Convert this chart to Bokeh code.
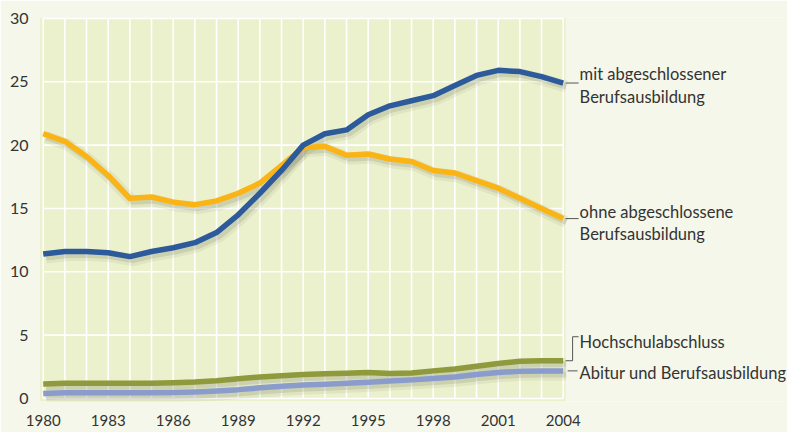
from bokeh.plotting import figure
from bokeh.models import Range1d, FixedTicker, Label
from bokeh.embed import file_html
from bokeh.resources import INLINE

# ---------------- data ----------------
years = list(range(1980, 2005))
mit_ausbildung = [11.4, 11.6, 11.6, 11.5, 11.2, 11.6, 11.9, 12.3, 13.1, 14.5, 16.2, 18.0, 20.0,
                  20.9, 21.2, 22.4, 23.1, 23.5, 23.9, 24.7, 25.5, 25.9, 25.8, 25.4, 24.9]
ohne_ausbildung = [20.9, 20.3, 19.1, 17.6, 15.8, 15.9, 15.5, 15.3, 15.6, 16.2, 17.0, 18.4, 19.8,
                   19.9, 19.2, 19.3, 18.9, 18.7, 18.0, 17.8, 17.2, 16.6, 15.8, 15.0, 14.2]
hochschule = [1.15, 1.2, 1.2, 1.2, 1.2, 1.2, 1.25, 1.3, 1.4, 1.55, 1.7, 1.8, 1.9,
              1.95, 2.0, 2.05, 1.97, 2.02, 2.18, 2.33, 2.55, 2.76, 2.94, 2.97, 2.98]
abitur = [0.4, 0.45, 0.45, 0.45, 0.45, 0.45, 0.47, 0.52, 0.6, 0.7, 0.84, 0.97, 1.07,
          1.12, 1.2, 1.29, 1.39, 1.47, 1.58, 1.7, 1.89, 2.05, 2.15, 2.18, 2.18]

x_ticks = list(range(1980, 2005, 3))
x_tick_labels = [str(t) for t in x_ticks]
y_ticks = [0, 5, 10, 15, 20, 25, 30]

label_mit = ["mit abgeschlossener", "Berufsausbildung"]
label_ohne = ["ohne abgeschlossene", "Berufsausbildung"]
label_hoch = "Hochschulabschluss"
label_abi = "Abitur und Berufsausbildung"

# ---------------- style / layout ----------------
PAGE_BG = "#f5f7ea"
PLOT_BG = "#ecf1cd"
TEXT = "#333333"
LEADER = "#555555"
C_MIT = "#2c5a9a"
C_OHNE = "#fbb416"
C_HOCH = "#8e9a3c"
C_ABI = "#8a9ccb"
FONT = "Lato"

W, H = 787, 432
LEFT, TOP, BOTTOM = 39, 17, 31
FRAME_W = W - LEFT
FRAME_H = H - TOP - BOTTOM
PX_YEAR = 21.667
PX_UNIT = 12.67
x0 = years[0] - 3.7 / PX_YEAR
x_plot_end = years[-1] + 2.4 / PX_YEAR
y0 = -3.0 / PX_UNIT
x1 = x0 + FRAME_W / PX_YEAR
y1 = y0 + FRAME_H / PX_UNIT

def dx(px):
    return px / PX_YEAR

def dy(px):
    return px / PX_UNIT

p = figure(width=W, height=H, x_range=Range1d(x0, x1), y_range=Range1d(y0, y1),
           output_backend="svg", toolbar_location=None,
           min_border_left=LEFT, min_border_right=0, min_border_top=TOP,
           min_border_bottom=BOTTOM, background_fill_color=PAGE_BG,
           border_fill_color=PAGE_BG, outline_line_color=None)
p.grid.visible = False

# plot area background
p.quad(left=[x0], right=[x_plot_end], bottom=[y0], top=[y1], fill_color=PLOT_BG, line_color=None)

# grid lines
p.multi_line(xs=[[yr, yr] for yr in years], ys=[[y_ticks[0], y_ticks[-1]]] * len(years),
             line_color="white", line_width=1.6)
p.multi_line(xs=[[years[0], years[-1]]] * len(y_ticks), ys=[[t, t] for t in y_ticks],
             line_color="white", line_width=1.6)

series = [(hochschule, C_HOCH), (abitur, C_ABI), (ohne_ausbildung, C_OHNE), (mit_ausbildung, C_MIT)]

# shadows
for vals, _c in series:
    sx = [yr + dx(3) for yr in years]
    sy = [v - dy(3.5) for v in vals]
    p.line(sx, sy, line_color="#5a5a40", line_alpha=0.08, line_width=12, line_join="round")
    p.line(sx, sy, line_color="#5a5a40", line_alpha=0.15, line_width=6, line_join="round")

for vals, c in series:
    p.line(years, vals, line_color=c, line_width=5.5, line_join="round")

# axes
for ax in (p.xaxis, p.yaxis):
    ax.axis_line_color = None
    ax.major_tick_line_color = None
    ax.minor_tick_line_color = None
    ax.major_tick_out = 0
    ax.major_tick_in = 0
    ax.major_label_text_font = FONT
    ax.major_label_text_color = TEXT
p.xaxis.ticker = FixedTicker(ticks=x_ticks)
p.xaxis.major_label_overrides = {t: s for t, s in zip(x_ticks, x_tick_labels)}
p.xaxis.major_label_text_font_size = "15px"
p.xaxis.major_label_standoff = 13
p.yaxis.ticker = FixedTicker(ticks=y_ticks)
p.yaxis.major_label_text_font_size = "16px"
p.yaxis.major_label_standoff = 11

# annotations
TX = x_plot_end + dx(14)

def add_label(text, y):
    p.add_layout(Label(x=TX, y=y, text=text, text_font=FONT, text_font_size="16.5px",
                       text_color=TEXT, text_baseline="middle", text_align="left"))

# mit
ym = mit_ausbildung[-1]
p.line([x_plot_end, x_plot_end + dx(13)], [ym, ym], line_color=LEADER, line_width=1)
add_label(label_mit[0], ym + dy(9))
add_label(label_mit[1], ym - dy(14))

# ohne
yo = ohne_ausbildung[-1]
p.line([x_plot_end, x_plot_end + dx(13)], [yo, yo], line_color=LEADER, line_width=1)
add_label(label_ohne[0], yo + dy(7))
add_label(label_ohne[1], yo - dy(15))

# Hochschul bracket
yh = hochschule[-1]
yh_top = yh + dy(24)
p.line([x_plot_end, x_plot_end + dx(7), x_plot_end + dx(7), x_plot_end + dx(13)],
       [yh, yh, yh_top, yh_top], line_color=LEADER, line_width=1)
add_label(label_hoch, yh_top - dy(5))

# Abitur
ya = abitur[-1]
p.line([x_plot_end + dx(2), x_plot_end + dx(12)], [ya, ya], line_color=LEADER, line_width=1)
add_label(label_abi, ya - dy(2))

open("out.html", "w").write(file_html(p, INLINE))
